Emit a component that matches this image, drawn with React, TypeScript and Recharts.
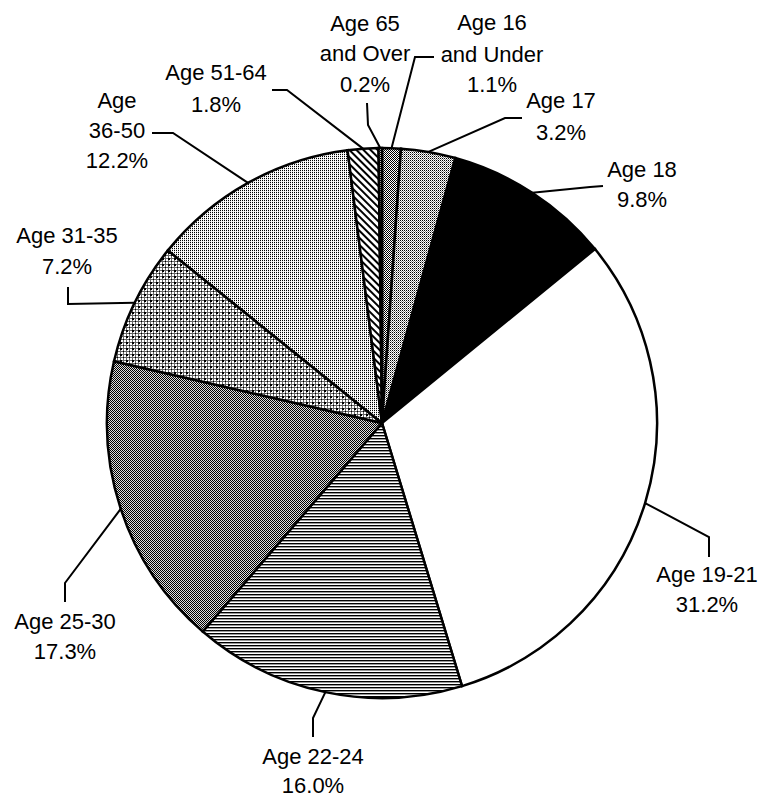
import { PieChart, Pie, Cell } from 'recharts'

// slices clockwise from 12 o'clock
const AGE_GROUPS = ['Age 16 and Under', 'Age 17', 'Age 18', 'Age 19-21', 'Age 22-24', 'Age 25-30', 'Age 31-35', 'Age 36-50', 'Age 51-64', 'Age 65 and Over']
const SHARES = [1.1, 3.2, 9.8, 31.2, 16.0, 17.3, 7.2, 12.2, 1.8, 0.2]
const LABEL_LINES = [
  ['Age 16', 'and Under'],
  ['Age 17'],
  ['Age 18'],
  ['Age 19-21'],
  ['Age 22-24'],
  ['Age 25-30'],
  ['Age 31-35'],
  ['Age', '36-50'],
  ['Age 51-64'],
  ['Age 65', 'and Over'],
]
const FILLS = ['url(#pDark)', 'url(#pMid)', '#000', '#fff', 'url(#pHoriz)', 'url(#pChecker)', 'url(#pGrid)', 'url(#pLight)', 'url(#pDiag)', 'url(#pDark)']

// leader line bends + text placement, per slice
const LABEL_LAYOUT: { path: number[][]; x: number; y: number[] }[] = [
  { path: [[415, 57], [434, 57]], x: 492, y: [30, 62, 92] },
  { path: [[505, 118], [522, 118]], x: 561, y: [108, 140] },
  { path: [[590, 187], [603, 186]], x: 642, y: [177, 207] },
  { path: [[709, 537], [709, 557]], x: 707, y: [582, 612] },
  { path: [[313, 718], [313, 737]], x: 313, y: [764, 793] },
  { path: [[65, 583], [65, 602]], x: 65, y: [629, 659] },
  { path: [[68, 304], [68, 287]], x: 67, y: [243, 274] },
  { path: [[173, 133], [152, 133]], x: 117, y: [108, 138, 168] },
  { path: [[287, 90], [272, 90]], x: 216, y: [80, 112] },
  { path: [[368, 125], [367, 103]], x: 365, y: [31, 61, 92] },
]

const data = AGE_GROUPS.map((name, i) => ({ name, value: SHARES[i] }))
const RADIAN = Math.PI / 180

const renderLabel = (props: any) => {
  const { cx, cy, midAngle, outerRadius, index } = props
  const ax = cx + outerRadius * Math.cos(-midAngle * RADIAN)
  const ay = cy + outerRadius * Math.sin(-midAngle * RADIAN)
  const lay = LABEL_LAYOUT[index]
  const pts = [[ax, ay], ...lay.path].map(p => p.join(',')).join(' ')
  const lines = [...LABEL_LINES[index], `${SHARES[index].toFixed(1)}%`]
  return (
    <g key={`lbl-${index}`}>
      <polyline points={pts} fill="none" stroke="#000" strokeWidth={2} />
      {lines.map((t, i) => (
        <text key={i} x={lay.x} y={lay.y[i]} textAnchor="middle" fill="#000"
          style={{ fontFamily: '"Liberation Sans", Arial, sans-serif', fontSize: 22 }}>
          {t}
        </text>
      ))}
    </g>
  )
}

export default function App() {
  return (
    <div style={{ width: 762, height: 797, background: '#fff' }}>
      <style>{'body{margin:0}'}</style>
      <PieChart width={762} height={797} margin={{ top: 0, right: 0, bottom: 0, left: 0 }}>
        <defs>
          <pattern id="pDark" width="2" height="2" patternUnits="userSpaceOnUse">
            <rect width="2" height="2" fill="#fff" />
            <rect x="0" y="0" width="1" height="1" fill="#000" />
            <rect x="1" y="1" width="1" height="1" fill="#000" />
          </pattern>
          <pattern id="pMid" width="2" height="2" patternUnits="userSpaceOnUse">
            <rect width="2" height="2" fill="#fff" />
            <rect x="0" y="0" width="1" height="1" fill="#000" />
            <rect x="1" y="1" width="1" height="1" fill="#888" />
          </pattern>
          <pattern id="pHoriz" width="4" height="3" patternUnits="userSpaceOnUse">
            <rect width="4" height="3" fill="#fff" />
            <rect x="0" y="0" width="4" height="1" fill="#000" />
            <rect x="0" y="1" width="4" height="1" fill="#999" />
          </pattern>
          <pattern id="pChecker" width="2" height="2" patternUnits="userSpaceOnUse">
            <rect width="2" height="2" fill="#ddd" />
            <rect x="0" y="0" width="1" height="1" fill="#000" />
            <rect x="1" y="1" width="1" height="1" fill="#000" />
          </pattern>
          <pattern id="pGrid" width="6" height="6" patternUnits="userSpaceOnUse">
            <rect width="6" height="6" fill="#fff" />
            <rect x="0" y="0" width="6" height="1" fill="#666" />
            <rect x="0" y="3" width="6" height="1" fill="#666" />
            <rect x="0" y="0" width="1" height="6" fill="#666" />
            <rect x="3" y="0" width="1" height="6" fill="#666" />
            <rect x="0" y="0" width="2" height="2" fill="#000" />
            <rect x="3" y="3" width="1" height="1" fill="#000" />
          </pattern>
          <pattern id="pLight" width="2" height="2" patternUnits="userSpaceOnUse">
            <rect width="2" height="2" fill="#fff" />
            <rect x="0" y="0" width="1" height="1" fill="#000" />
            <rect x="0" y="1" width="1" height="1" fill="#ddd" />
          </pattern>
          <pattern id="pDiag" width="5" height="5" patternUnits="userSpaceOnUse" patternTransform="rotate(-45)">
            <rect width="5" height="5" fill="#fff" />
            <rect x="0" y="0" width="2" height="5" fill="#000" />
          </pattern>
        </defs>
        <Pie
          data={data}
          dataKey="value"
          nameKey="name"
          cx={382}
          cy={423}
          outerRadius={275}
          startAngle={90}
          endAngle={-270}
          stroke="#000"
          strokeWidth={2.5}
          label={renderLabel}
          labelLine={false}
          isAnimationActive={false}
        >
          {data.map((d, i) => (
            <Cell key={d.name} fill={FILLS[i]} stroke="#000" strokeWidth={2.5} />
          ))}
        </Pie>
      </PieChart>
    </div>
  )
}
